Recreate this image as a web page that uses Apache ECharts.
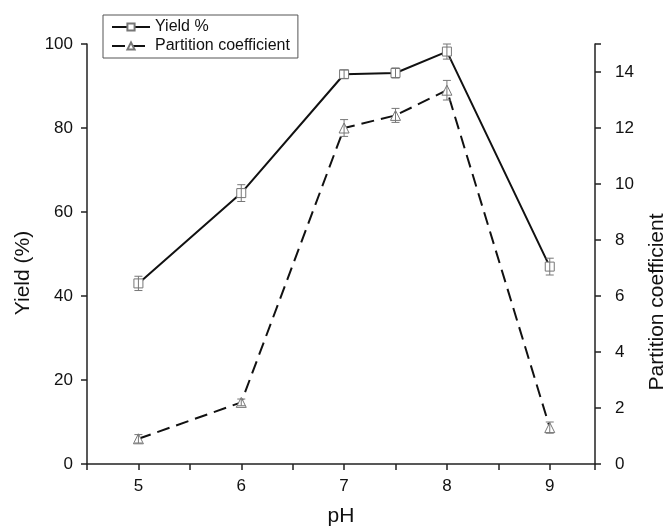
<!DOCTYPE html>
<html>
<head>
<meta charset="utf-8">
<script src="https://cdn.jsdelivr.net/npm/echarts@6/dist/echarts.min.js"></script>
<style>
  html, body { margin: 0; padding: 0; background: #fff; }
  #chart { width: 667px; height: 527px; }
</style>
</head>
<body>
<div id="chart"></div>
<script>
// data
var phValues = [5, 6, 7, 7.5, 8, 9];
var yieldValues = [43, 64.5, 92.8, 93.1, 98.2, 47];
var yieldErrors = [1.7, 2, 1, 1.2, 1.8, 2];
var partitionValues = [0.9, 2.2, 12.0, 12.45, 13.35, 1.3];
var partitionErrors = [0.15, 0.12, 0.3, 0.25, 0.35, 0.2];
var seriesNames = ['Yield %', 'Partition coefficient'];

var FONT = 'Liberation Sans, Arial, sans-serif';

function pairs(xs, ys) {
  return xs.map(function (x, i) { return [x, ys[i]]; });
}
function errRows(xs, ys, es) {
  return xs.map(function (x, i) { return [x, ys[i] - es[i], ys[i] + es[i]]; });
}

// error bar with small caps, positioned via the axis scales
function renderErrorBar(params, api) {
  var x = api.value(0);
  var lo = api.coord([x, api.value(1)]);
  var hi = api.coord([x, api.value(2)]);
  var cap = 4;
  var style = { stroke: '#777', lineWidth: 1, fill: null };
  return {
    type: 'group',
    children: [
      { type: 'line', shape: { x1: lo[0], y1: lo[1], x2: hi[0], y2: hi[1] }, style: style },
      { type: 'line', shape: { x1: lo[0] - cap, y1: lo[1], x2: lo[0] + cap, y2: lo[1] }, style: style },
      { type: 'line', shape: { x1: hi[0] - cap, y1: hi[1], x2: hi[0] + cap, y2: hi[1] }, style: style }
    ]
  };
}

var axisLine = { show: true, onZero: false, lineStyle: { color: '#222', width: 1.5 } };
var axisTick = { show: true, inside: false, length: 6, lineStyle: { color: '#222', width: 1.5 } };

var myChart = echarts.init(document.getElementById('chart'));
var option = {
  backgroundColor: '#fff',
  animation: false,
  textStyle: { fontFamily: FONT },
  grid: { left: 87, right: 72, top: 44, bottom: 63, containLabel: false, outerBoundsMode: 'none' },
  legend: {
    data: seriesNames,
    orient: 'vertical',
    left: 103,
    top: 15,
    padding: [4, 8, 4, 8],
    itemGap: 3,
    itemWidth: 38,
    itemHeight: 9,
    borderColor: '#555',
    borderWidth: 1,
    textStyle: { fontFamily: FONT, fontSize: 16, color: '#111' }
  },
  xAxis: {
    type: 'value',
    min: 4.5,
    max: 9.44,
    interval: 0.5,
    name: 'pH',
    nameLocation: 'middle',
    nameGap: 42,
    nameTextStyle: { fontFamily: FONT, fontSize: 21, color: '#111' },
    axisLine: axisLine,
    axisTick: axisTick,
    splitLine: { show: false },
    axisLabel: {
      margin: 14,
      fontFamily: FONT,
      fontSize: 17,
      color: '#111',
      formatter: function (v) { return (v % 1 === 0 && v >= 5) ? String(v) : ''; }
    }
  },
  yAxis: [
    {
      type: 'value',
      min: 0,
      max: 100,
      interval: 20,
      position: 'left',
      name: 'Yield (%)',
      nameLocation: 'middle',
      nameRotate: 90,
      nameGap: 52,
      nameTextStyle: { fontFamily: FONT, fontSize: 21, color: '#111', padding: [0, 38, 0, 0] },
      axisLine: axisLine,
      axisTick: axisTick,
      splitLine: { show: false },
      axisLabel: { margin: 14, fontFamily: FONT, fontSize: 17, color: '#111' }
    },
    {
      type: 'value',
      min: 0,
      max: 15,
      interval: 2,
      position: 'right',
      name: 'Partition coefficient',
      nameLocation: 'middle',
      nameRotate: 90,
      nameGap: 52,
      nameTextStyle: { fontFamily: FONT, fontSize: 21, color: '#111', padding: [0, 96, 0, 0] },
      axisLine: axisLine,
      axisTick: axisTick,
      splitLine: { show: false },
      axisLabel: {
        margin: 20,
        fontFamily: FONT,
        fontSize: 17,
        color: '#111',
        formatter: function (v) { return v <= 14 ? String(v) : ''; }
      }
    }
  ],
  series: [
    {
      name: seriesNames[0],
      type: 'line',
      yAxisIndex: 0,
      data: pairs(phValues, yieldValues),
      symbol: 'rect',
      symbolSize: 9,
      z: 3,
      lineStyle: { color: '#111', width: 2, type: 'solid' },
      itemStyle: { color: '#fff', borderColor: '#777', borderWidth: 1 }
    },
    {
      name: seriesNames[1],
      type: 'line',
      yAxisIndex: 1,
      data: pairs(phValues, partitionValues),
      symbol: 'triangle',
      symbolSize: 10,
      z: 3,
      lineStyle: { color: '#111', width: 2, type: [13, 7] },
      itemStyle: { color: '#fff', borderColor: '#777', borderWidth: 1 }
    },
    {
      type: 'custom',
      yAxisIndex: 0,
      z: 5,
      renderItem: renderErrorBar,
      encode: { x: 0, y: [1, 2] },
      data: errRows(phValues, yieldValues, yieldErrors)
    },
    {
      type: 'custom',
      yAxisIndex: 1,
      z: 5,
      renderItem: renderErrorBar,
      encode: { x: 0, y: [1, 2] },
      data: errRows(phValues, partitionValues, partitionErrors)
    }
  ]
};
myChart.setOption(option);
</script>
</body>
</html>
